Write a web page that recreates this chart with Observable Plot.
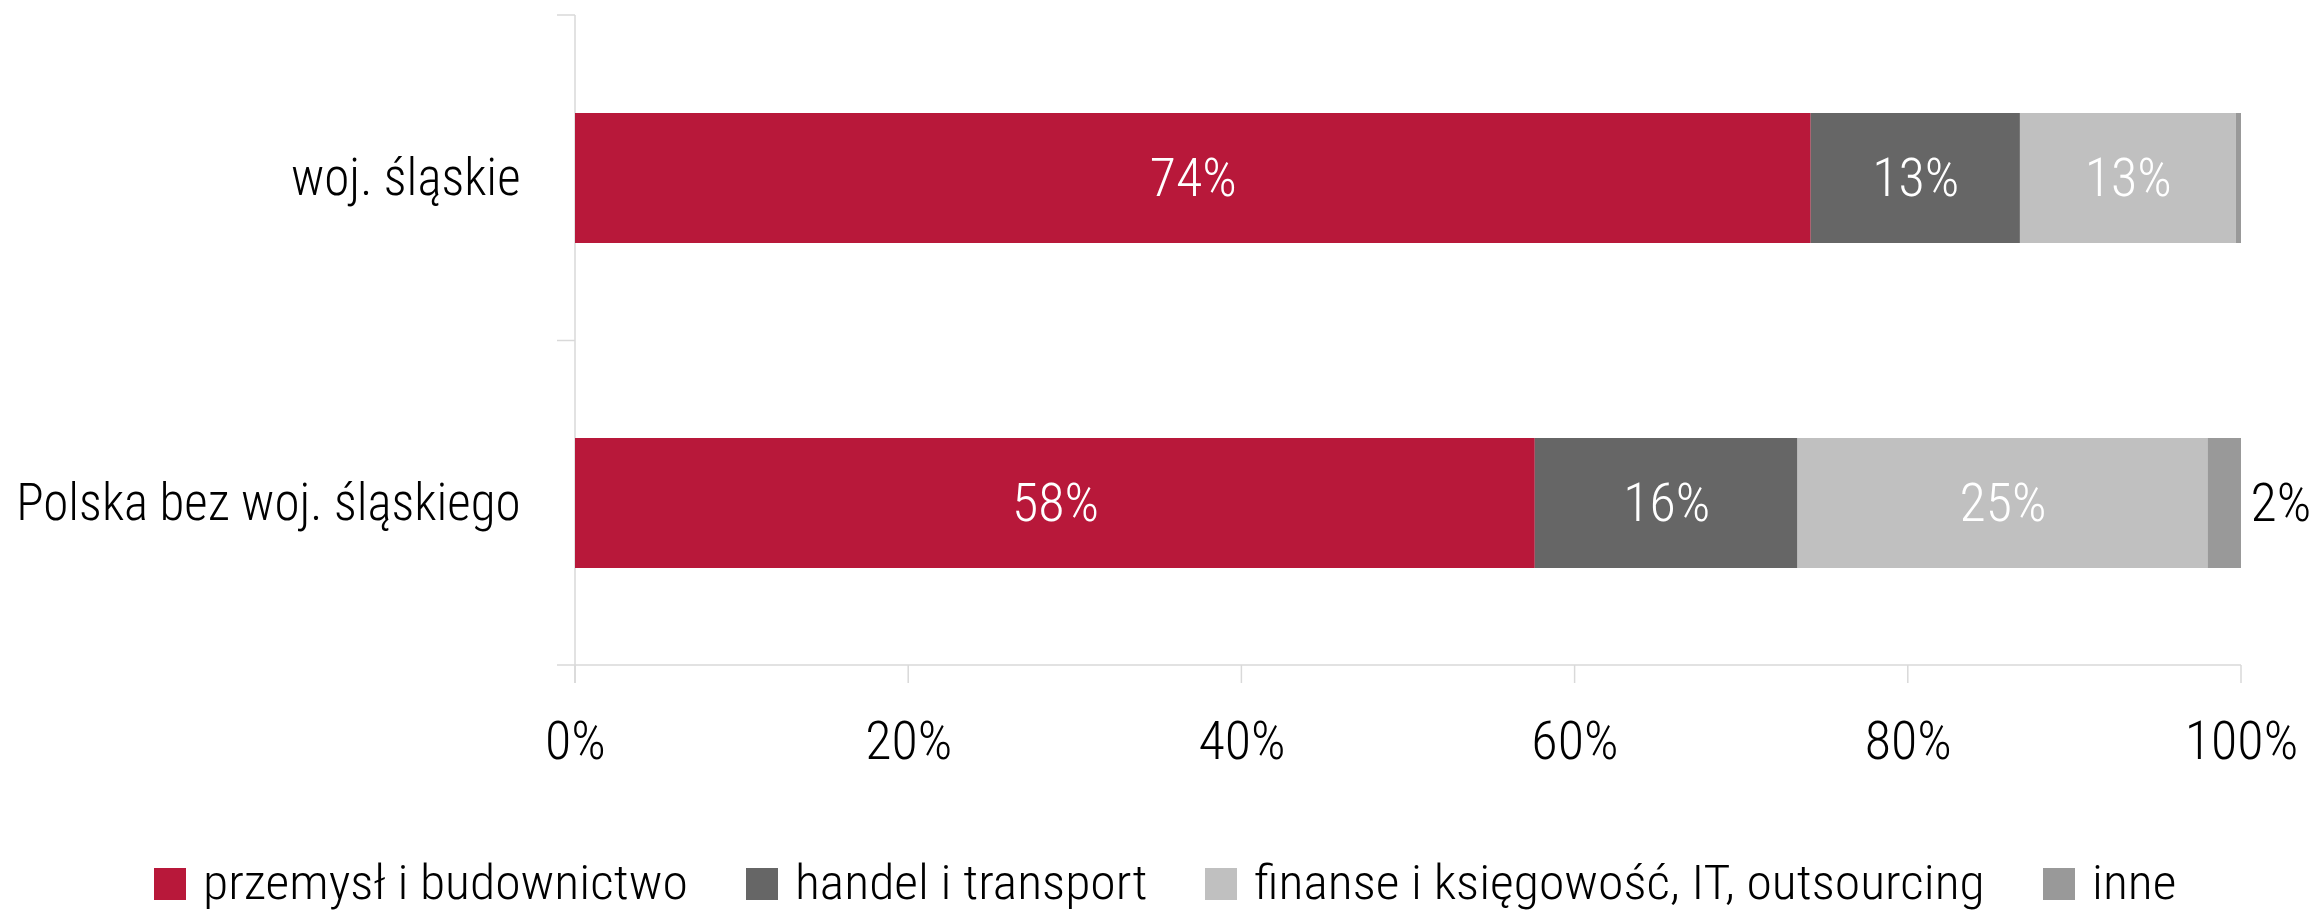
<!DOCTYPE html>
<html>
<head>
<meta charset="utf-8">
<script src="https://cdn.jsdelivr.net/npm/d3@7"></script>
<script src="https://cdn.jsdelivr.net/npm/@observablehq/plot@0.6"></script>
<style>
  html, body { margin: 0; padding: 0; background: #fff; overflow: hidden; }
  #chart svg { display: block; }
  #legend { display: flex; justify-content: center; align-items: flex-start; height: 111px; padding-top: 58px; box-sizing: border-box; padding-left: 17px; }
  .item { display: flex; align-items: flex-start; margin: 0 29px; }
  .sw { width: 32px; height: 32px; margin-top: 10px; margin-right: 17px; flex: none; }
  .lab { display: inline-block; white-space: nowrap; font-size: 49px; line-height: 49px; color: #000; transform-origin: left center; }
</style>
</head>
<body>
<div id="chart"></div>
<div id="legend"></div>
<script>
// ---- data ----
const categories = ["woj. śląskie", "Polska bez woj. śląskiego"];
const sectors = ["przemysł i budownictwo", "handel i transport", "finanse i księgowość, IT, outsourcing", "inne"];
const sectorColors = ["#B8183A", "#666666", "#C0C0C0", "#999999"];
const slaskieValues = [0.7417, 0.1256, 0.1295, 0.0032];
const polskaValues = [0.5761, 0.1577, 0.2461, 0.0201];
const xTicks = [0, 0.2, 0.4, 0.6, 0.8, 1.0];

const rows = [];
[slaskieValues, polskaValues].forEach((vals, ci) => {
  vals.forEach((v, si) => rows.push({category: categories[ci], sector: sectors[si], value: v}));
});
const pct = v => Math.round(v * 100) + "%";

// ---- font selection ----
function hasFont(name) {
  const c = document.createElement("canvas").getContext("2d");
  const s = "Polska bez woj. śląskiego 0123";
  c.font = "50px monospace"; const a = c.measureText(s).width;
  c.font = `50px "${name}", monospace`; const b = c.measureText(s).width;
  return Math.abs(a - b) > 0.5;
}
let FONT = "Roboto", FACTOR = 0.90, LEGEND_FACTOR = 0.98;
if (hasFont("Roboto Condensed")) { FONT = "Roboto Condensed"; FACTOR = 1; LEGEND_FACTOR = 1.055; }
const WEIGHT = 300;

const gridColor = "#d9d9d9";
const tickLen = 18;

function structure(index, scales, values, dimensions) {
  const {x, y} = scales;
  const bw = typeof y.bandwidth === "function" ? y.bandwidth() : y.bandwidth;
  const top = dimensions.marginTop;
  const bottom = dimensions.height - dimensions.marginBottom;
  const x0 = x(0), x1 = x(1);
  const g = d3.create("svg:g").attr("stroke", gridColor).attr("stroke-width", 1.5).attr("fill", "none");
  // vertical category axis
  g.append("line").attr("x1", x0).attr("x2", x0).attr("y1", top).attr("y2", bottom + tickLen);
  // category separators
  const bounds = [top];
  for (let i = 0; i < categories.length - 1; i++) {
    bounds.push((y(categories[i]) + bw + y(categories[i + 1])) / 2);
  }
  for (const b of bounds) {
    g.append("line").attr("x1", x0 - tickLen).attr("x2", x0).attr("y1", b).attr("y2", b);
  }
  // bottom value axis
  g.append("line").attr("x1", x0 - tickLen).attr("x2", x1).attr("y1", bottom).attr("y2", bottom);
  for (const t of xTicks) {
    g.append("line").attr("x1", x(t)).attr("x2", x(t)).attr("y1", bottom).attr("y2", bottom + tickLen);
  }
  return g.node();
}

const chart = Plot.plot({
  width: 2313,
  height: 800,
  marginLeft: 575,
  marginRight: 72,
  marginTop: 15,
  marginBottom: 135,
  style: {fontFamily: FONT, fontWeight: WEIGHT, background: "#fff", color: "#000"},
  x: {domain: [0, 1]},
  y: {domain: categories, paddingInner: 0.6, paddingOuter: 0.3},
  color: {domain: sectors, range: sectorColors},
  marks: [
    structure,
    Plot.barX(rows, {x: "value", y: "category", fill: "sector"}),
    Plot.text(rows, Plot.stackX({x: "value", y: "category",
      text: d => d.sector !== "inne" ? pct(d.value) : null,
      fill: "#fff", fontSize: 54})),
    Plot.text(rows, Plot.stackX2({x: "value", y: "category",
      text: d => d.sector === "inne" && d.value >= 0.01 ? pct(d.value) : null,
      fill: "#000", fontSize: 54, textAnchor: "start", dx: 9})),
    Plot.axisY({tickSize: 0, tickPadding: 55, fontSize: 51, label: null}),
    Plot.axisX(xTicks, {tickSize: 0, tickPadding: 55, fontSize: 54, label: null, tickFormat: pct})
  ]
});
document.getElementById("chart").append(chart);

// condense text (emulates a condensed face when only the regular width is installed)
if (FACTOR !== 1) {
  chart.querySelectorAll("text").forEach(t => {
    const L = t.getComputedTextLength();
    if (L > 0) {
      t.setAttribute("textLength", (L * FACTOR).toFixed(2));
      t.setAttribute("lengthAdjust", "spacingAndGlyphs");
    }
  });
}

// ---- legend ----
const legend = document.getElementById("legend");
legend.style.fontFamily = FONT;
legend.style.fontWeight = WEIGHT;
const ctx = document.createElement("canvas").getContext("2d");
ctx.font = `${WEIGHT} 49px "${FONT}"`;
sectors.forEach((s, i) => {
  const item = document.createElement("div");
  item.className = "item";
  const sw = document.createElement("div");
  sw.className = "sw";
  sw.style.background = sectorColors[i];
  const wrap = document.createElement("div");
  const w = ctx.measureText(s).width;
  wrap.style.width = (w * LEGEND_FACTOR) + "px";
  wrap.style.height = "49px";
  const lab = document.createElement("span");
  lab.className = "lab";
  lab.textContent = s;
  lab.style.transform = `scaleX(${LEGEND_FACTOR})`;
  wrap.append(lab);
  item.append(sw, wrap);
  legend.append(item);
});
</script>
</body>
</html>
